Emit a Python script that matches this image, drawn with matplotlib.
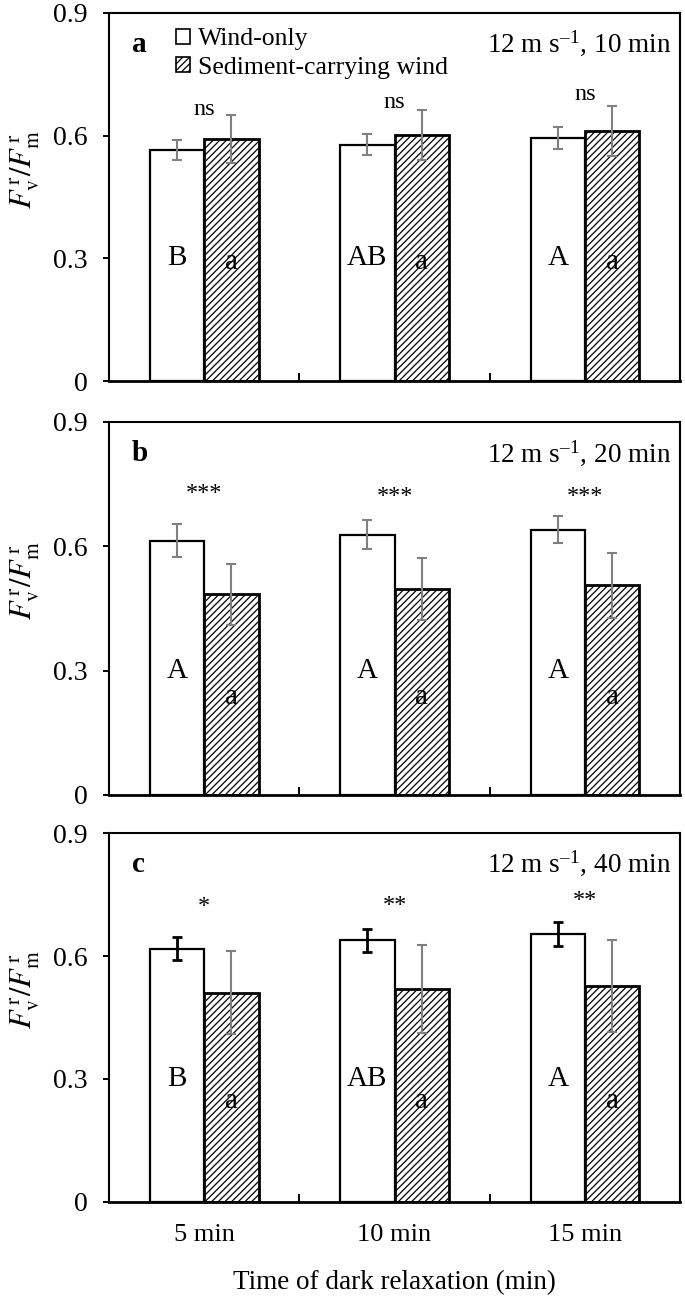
import matplotlib
matplotlib.use("Agg")
import matplotlib.pyplot as plt
from matplotlib.patches import Patch
import numpy as np

# dark relaxation time categories
categories = ["5 min", "10 min", "15 min"]

# Fv'/Fm' means and SD, panel a (12 m/s, 10 min)
wind_a = [0.565, 0.578, 0.594]
wind_a_err = [0.025, 0.025, 0.026]
sed_a = [0.592, 0.602, 0.612]
sed_a_err = [0.059, 0.061, 0.061]

# panel b (12 m/s, 20 min)
wind_b = [0.614, 0.628, 0.640]
wind_b_err = [0.039, 0.035, 0.032]
sed_b = [0.484, 0.496, 0.506]
sed_b_err = [0.073, 0.075, 0.079]

# panel c (12 m/s, 40 min)
wind_c = [0.618, 0.638, 0.654]
wind_c_err = [0.028, 0.029, 0.029]
sed_c = [0.511, 0.519, 0.527]
sed_c_err = [0.101, 0.107, 0.112]

# significance between treatments
sig_a = ["ns", "ns", "ns"]
sig_b = ["***", "***", "***"]
sig_c = ["*", "**", "**"]

# letters (multiple comparisons within treatment)
wind_letters_a = ["B", "AB", "A"]
wind_letters_b = ["A", "A", "A"]
wind_letters_c = ["B", "AB", "A"]
sed_letters = ["a", "a", "a"]

titles = ["12 m s$^{\\mathregular{\u20131}}$, 10 min",
          "12 m s$^{\\mathregular{\u20131}}$, 20 min",
          "12 m s$^{\\mathregular{\u20131}}$, 40 min"]
panel_tags = ["a", "b", "c"]

plt.rcParams['font.family'] = ['Liberation Serif', 'DejaVu Serif']
plt.rcParams['mathtext.fontset'] = 'stix'
plt.rcParams['hatch.linewidth'] = 0.9

fig = plt.figure(figsize=(6.85, 13), dpi=100)

# axes rectangles in figure fraction (left, bottom, width, height)
left, width = 0.159, 0.834
boxes = [(left, 0.7069, width, 0.2831),
         (left, 0.3885, width, 0.2869),
         (left, 0.0754, width, 0.2838)]

panels = [
    (wind_a, wind_a_err, sed_a, sed_a_err, sig_a, wind_letters_a, [0.663, 0.680, 0.700], 0.29, "gray"),
    (wind_b, wind_b_err, sed_b, sed_b_err, sig_b, wind_letters_b, [0.727, 0.720, 0.720], 0.237, "gray"),
    (wind_c, wind_c_err, sed_c, sed_c_err, sig_c, wind_letters_c, [0.720, 0.724, 0.735], 0.247, "black"),
]

x = np.arange(len(categories))
bw = 0.286
hatch = "/////"

for i, (box, p) in enumerate(zip(boxes, panels)):
    wind, wind_err, sed, sed_err, sig, wlet, sig_y, sed_let_y, wind_ecol = p
    ax = fig.add_axes(box)

    ax.bar(x - bw / 2, wind, bw, color="white", edgecolor="black", linewidth=1.6, zorder=2)
    ax.bar(x + bw / 2, sed, bw, color="white", edgecolor="black", linewidth=2.0,
           hatch=hatch, zorder=2)

    wlw = 2.0 if wind_ecol == "black" else 1.5
    ax.errorbar(x - bw / 2, wind, yerr=wind_err, fmt="none", ecolor=wind_ecol,
                elinewidth=wlw, capsize=3.8, capthick=wlw, zorder=3)
    ax.errorbar(x + bw / 2, sed, yerr=sed_err, fmt="none", ecolor="gray",
                elinewidth=1.5, capsize=3.8, capthick=1.5, zorder=3)

    for j in range(len(categories)):
        ax.text(x[j], sig_y[j], sig[j], ha="center", va="center", fontsize=17.5)
        ax.text(x[j] - bw / 2, 0.30, wlet[j], ha="center", va="center", fontsize=21)
        ax.text(x[j] + bw / 2, sed_let_y, sed_letters[j], ha="center", va="center", fontsize=21)

    ax.text(0.04, 0.915, panel_tags[i], transform=ax.transAxes, fontsize=21,
            fontweight="bold", ha="left", va="center")
    ax.text(0.985, 0.915, titles[i], transform=ax.transAxes, fontsize=19.5,
            ha="right", va="center")

    ax.set_xlim(-0.5, 2.5)
    ax.set_ylim(0, 0.9)
    ax.set_yticks([0, 0.3, 0.6, 0.9])
    ax.set_yticklabels(["0", "0.3", "0.6", "0.9"])
    ax.set_xticks(x)
    ax.set_xticks([0.5, 1.5], minor=True)
    ax.tick_params(axis="y", direction="out", length=4, width=1.4, labelsize=20, pad=11)
    ax.tick_params(axis="x", which="major", length=0, labelsize=19, pad=16)
    ax.tick_params(axis="x", which="minor", direction="in", length=6, width=1.4)
    if i < 2:
        ax.set_xticklabels([])
    else:
        ax.set_xticklabels(categories)
        ax.set_xlabel("Time of dark relaxation (min)", fontsize=19.5, labelpad=17)

    for s in ax.spines.values():
        s.set_linewidth(1.5)
    ax.spines["bottom"].set_linewidth(2.0)

    ax.set_ylabel(r"$F_{\mathrm{v}}^{\,\mathrm{r}}/F_{\mathrm{m}}^{\,\mathrm{r}}$", fontsize=22)
    ax.yaxis.set_label_coords(-0.118, 0.575)

    if i == 0:
        handles = [Patch(facecolor="white", edgecolor="black", linewidth=1.2),
                   Patch(facecolor="white", edgecolor="black", linewidth=1.2, hatch=hatch)]
        ax.legend(handles, ["Wind-only", "Sediment-carrying wind"], loc="upper left",
                  bbox_to_anchor=(0.09, 1.0), frameon=False, fontsize=18.5,
                  handlelength=0.55, handleheight=0.55, handletextpad=0.3,
                  labelspacing=0.25, borderaxespad=0.2)

fig.savefig("out.png", dpi=100)
